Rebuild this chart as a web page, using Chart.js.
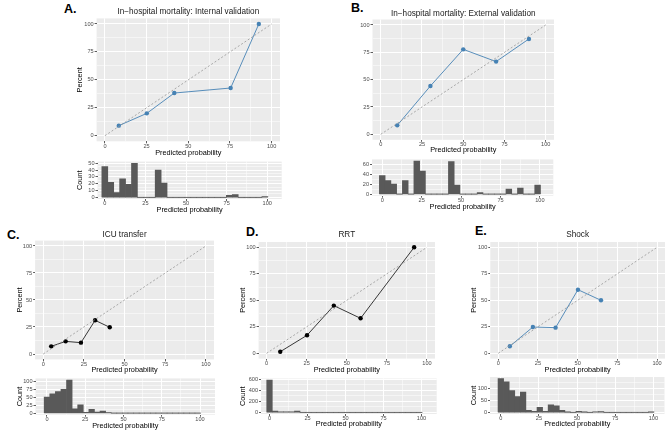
<!DOCTYPE html>
<html>
<head>
<meta charset="utf-8">
<script src="https://cdn.jsdelivr.net/npm/chart.js@4.4.0/dist/chart.umd.min.js"></script>
<style>
  body { margin: 0; background: #fff; }
  #fig { position: relative; width: 669px; height: 430px; overflow: hidden; }
  .tag { position: absolute; font: bold 12.5px 'Liberation Sans', Arial, sans-serif; line-height: 12.5px; color: #000; }
</style>
</head>
<body>
<div id="fig">
  <div class="tag" style="left:64px;top:2.7px">A.</div>
  <div class="tag" style="left:351px;top:2px">B.</div>
  <div class="tag" style="left:7px;top:229px">C.</div>
  <div class="tag" style="left:246px;top:225.5px">D.</div>
  <div class="tag" style="left:475px;top:224.5px">E.</div>
</div>
<script>
const FONT = "'Liberation Sans', Arial, sans-serif"

// reference diagonal
const refLine = [0, 100]
const pctTicks = [0, 25, 50, 75, 100]

// calibration curves: predicted (%) vs observed (%)
const predA = [8.3, 25.1, 41.6, 75.4, 92.3]
const obsA  = [9, 20, 38.2, 42.7, 100]
const predB = [10, 30.1, 50, 69.9, 89.8]
const obsB  = [8.2, 44.2, 77.7, 66.5, 87.2]
const predC = [4.9, 13.8, 23.2, 31.9, 40.9]
const obsC  = [7.1, 11.7, 10.5, 31.2, 24.7]
const predD = [8.5, 25.2, 41.9, 58.6, 92]
const obsD  = [1.5, 17, 45, 33, 100]
const predE = [7.3, 21.8, 36.1, 50.2, 64.7]
const obsE  = [6.6, 24.8, 24.2, 60, 50]

// histogram bins (predicted probability, %)
const binMids = [0, 3.65, 7.3, 10.95, 14.6, 18.25, 21.9, 25.55, 29.2, 32.85, 36.5, 40.15, 43.8, 47.45,
  51.1, 54.75, 58.4, 62.05, 65.7, 69.35, 73, 76.65, 80.3, 83.95, 87.6, 91.25, 94.9, 98.55]
const countA = [45, 22, 7, 27, 19, 50, 0, 0, 0, 40, 21, 0, 0, 0, 0, 0, 0, 0, 0, 0, 0, 3, 4, 0, 0, 0, 0, 1]
const countB = [37, 27, 20, 0, 27, 0, 66, 46, 0, 0, 0, 0, 65, 18, 0, 0, 0, 3, 0, 0, 0, 0, 10, 0, 12, 0, 0, 18]
const countC = [50, 60, 67, 74, 103, 13, 26, 2, 12, 3, 6, 1, 0, 0, 0, 0, 0, 0, 0, 0, 0, 0, 0, 0, 0, 0, 0, 0]
const countD = [580, 25, 12, 8, 10, 25, 0, 0, 0, 0, 0, 0, 0, 0, 0, 0, 0, 0, 0, 0, 0, 0, 0, 0, 0, 0, 0, 0]
const countE = [140, 127, 90, 66, 84, 8, 4, 21, 4, 31, 27, 8, 1, 0, 4, 1, 0, 2, 3, 0, 0, 0, 0, 0, 0, 0, 0, 1]

const ticksA = [0, 10, 20, 30, 40, 50]
const ticksB = [0, 20, 40, 60]
const ticksC = [0, 25, 50, 75, 100]
const ticksD = [0, 200, 400, 600]
const ticksE = [0, 50, 100]

const BLUE = '#4682b4'

// grey panel background, zero line under the bins, title centred over the panel
const panelPlugin = {
  id: 'panel',
  beforeDraw(chart, args, opts) {
    const { ctx, chartArea: a } = chart
    ctx.save()
    ctx.fillStyle = '#ebebeb'
    ctx.fillRect(a.left, a.top, a.right - a.left, a.bottom - a.top)
    ctx.restore()
  },
  beforeDatasetsDraw(chart, args, opts) {
    if (!opts.baseline) return
    const { ctx, scales: { x, y } } = chart
    const half = (binMids[1] - binMids[0]) / 2
    const y0 = y.getPixelForValue(0)
    ctx.save()
    ctx.strokeStyle = '#9a9a9a'
    ctx.lineWidth = 0.8
    ctx.beginPath()
    ctx.moveTo(x.getPixelForValue(binMids[0] - half), y0)
    ctx.lineTo(x.getPixelForValue(binMids[binMids.length - 1] + half), y0)
    ctx.stroke()
    ctx.restore()
  },
  afterDraw(chart, args, opts) {
    if (!opts.title) return
    const { ctx, chartArea: a } = chart
    ctx.save()
    ctx.font = `${opts.size}px ${FONT}`
    ctx.fillStyle = '#1a1a1a'
    ctx.textAlign = 'center'
    ctx.textBaseline = 'middle'
    ctx.fillText(opts.title, (a.left + a.right) / 2, opts.y)
    ctx.restore()
  }
}

function withMinor(majors, min, max) {
  const step = majors[1] - majors[0]
  const out = majors.filter(v => v >= min && v <= max).map(v => ({ value: v }))
  for (let v = majors[0] - step / 2; v <= majors[majors.length - 1] + step / 2 + 1e-9; v += step) {
    if (v >= min && v <= max) out.push({ value: v, minor: true })
  }
  return out.sort((a, b) => a.value - b.value)
}

function axis(min, max, majors, size, title, horizontal) {
  return {
    type: 'linear', min, max, offset: false,
    afterBuildTicks: s => { s.ticks = withMinor(majors, min, max) },
    afterFit: s => {
      if (horizontal) s.height = size
      else s.width = size
      s.paddingLeft = s.paddingRight = s.paddingTop = s.paddingBottom = 0
    },
    grid: {
      offset: false,
      color: '#ffffff',
      lineWidth: c => (c.tick && c.tick.minor ? 0.5 : 1),
      drawTicks: true,
      tickLength: 2,
      tickWidth: 0.8,
      tickColor: c => (c.tick && c.tick.minor ? 'rgba(0,0,0,0)' : '#333333')
    },
    border: { display: false },
    ticks: {
      autoSkip: false, maxRotation: 0, minRotation: 0, padding: horizontal ? 0 : 1,
      color: '#4d4d4d', font: { family: FONT, size: 5.6, lineHeight: 1 },
      callback: (v, i, t) => (t[i].minor ? '' : v)
    },
    title: {
      display: !!title, text: title || '', color: '#000', padding: 0,
      font: { family: FONT, size: 7.3, lineHeight: 1 }
    }
  }
}

function makeCanvas(box) {
  const [bx, by, bw, bh] = box
  const cv = document.createElement('canvas')
  cv.width = bw
  cv.height = bh
  cv.style.cssText = `position:absolute;left:${bx}px;top:${by}px;width:${bw}px;height:${bh}px`
  document.getElementById('fig').appendChild(cv)
  return cv
}

function baseOptions(box, area, xr, xMajors, yr, yMajors, yTitle, title, titleY, baseline) {
  const [bx, by, bw, bh] = box
  const [l, t, r, b] = area
  return {
    responsive: false, animation: false, devicePixelRatio: 1,
    layout: { padding: { left: 0, top: t - by, right: bx + bw - r, bottom: 0 } },
    plugins: {
      legend: { display: false }, tooltip: { enabled: false },
      panel: { title, y: titleY - by, size: 8.2, baseline }
    },
    scales: {
      x: axis(xr[0], xr[1], xMajors, by + bh - b, 'Predicted probability', true),
      y: axis(yr[0], yr[1], yMajors, l - bx, yTitle, false)
    }
  }
}

function calibChart(box, area, pred, obs, lineColor, ptColor, yTitle, title, titleY) {
  new Chart(makeCanvas(box), {
    type: 'line',
    data: {
      datasets: [
        {
          data: refLine.map(v => ({ x: v, y: v })),
          borderColor: '#959595', borderWidth: 0.8, borderDash: [2, 2], pointRadius: 0
        },
        {
          data: pred.map((p, i) => ({ x: p, y: obs[i] })),
          borderColor: lineColor, borderWidth: 0.9,
          pointRadius: 2.2, pointBackgroundColor: ptColor, pointBorderWidth: 0
        }
      ]
    },
    options: baseOptions(box, area, [-5, 105], pctTicks, [-5, 105], pctTicks, yTitle, title, titleY, false),
    plugins: [panelPlugin]
  })
}

function histChart(box, area, xr, counts, yMajors, yTitle) {
  const top = Math.max(...counts)
  new Chart(makeCanvas(box), {
    type: 'bar',
    data: {
      datasets: [{
        data: binMids.map((x, i) => ({ x, y: counts[i] })),
        backgroundColor: '#595959', borderWidth: 0,
        barPercentage: 1, categoryPercentage: 1
      }]
    },
    options: baseOptions(box, area, xr, pctTicks, [-0.05 * top, 1.05 * top], yMajors, yTitle, null, 0, true),
    plugins: [panelPlugin]
  })
}

calibChart([76, 0, 208, 157], [96.6, 18.4, 281.7, 141.3], predA, obsA, BLUE, BLUE, 'Percent',
  'In\u2212hospital mortality: Internal validation', 11.7)
histChart([76, 157, 208, 57], [97.5, 161.6, 281.7, 199], [-4.5, 108.9], countA, ticksA, 'Count')

calibChart([358, 0, 200, 154], [372.5, 19.5, 554.5, 139.8], predB, obsB, BLUE, BLUE, null,
  'In\u2212hospital mortality: External validation', 13.3)
histChart([358, 154, 200, 57], [372, 159.4, 553.3, 195.7], [-6.5, 108.5], countB, ticksB, null)

calibChart([16, 225, 202, 149], [35.1, 240.6, 215.5, 359.4], predC, obsC, '#222', '#000', 'Percent', 'ICU transfer', 235)
histChart([16, 374, 202, 56], [35.5, 378.4, 215, 414.7], [-7.5, 109.8], countC, ticksC, 'Count')

calibChart([239, 225, 200, 149], [258.6, 242, 436.4, 358.6], predD, obsD, '#222', '#000', 'Percent', 'RRT', 235)
histChart([239, 374, 200, 54], [261, 378.5, 436.7, 414], [-5.6, 110], countD, ticksD, 'Count')

calibChart([470, 225, 199, 149], [490.3, 242, 665, 358.6], predE, obsE, BLUE, BLUE, 'Percent', 'Shock', 235)
histChart([470, 374, 199, 54], [490, 377, 664.5, 414], [-7.1, 107.3], countE, ticksE, 'Count')
</script>
</body>
</html>
